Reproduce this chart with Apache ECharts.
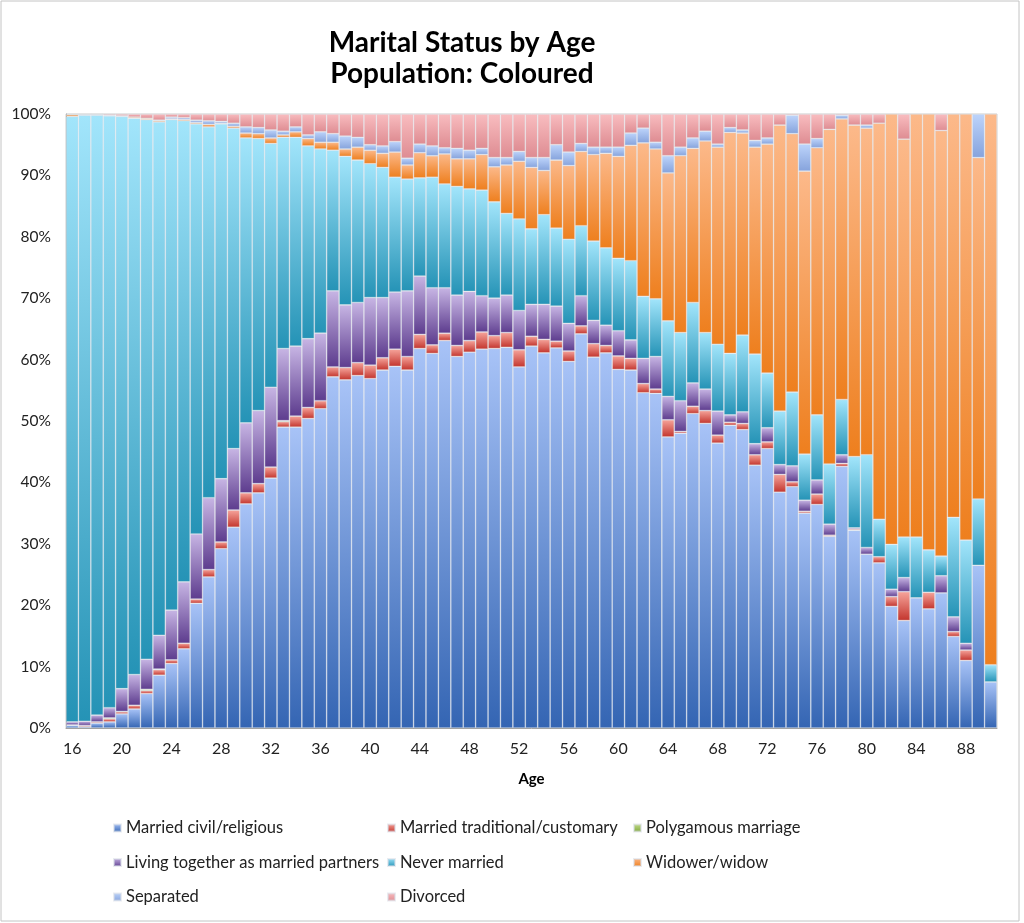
<!DOCTYPE html>
<html>
<head>
<meta charset="utf-8">
<title>Marital Status by Age</title>
<script src="https://cdn.jsdelivr.net/npm/echarts@6/dist/echarts.min.js"></script>
<style>
  html, body { margin: 0; padding: 0; background: #fff; }
  #chart { width: 1024px; height: 923px; }
</style>
</head>
<body>
<div id="chart"></div>
<script>
// ages 16 .. 90
const ages = ['16','17','18','19','20','21','22','23','24','25',
  '26','27','28','29','30','31','32','33','34','35',
  '36','37','38','39','40','41','42','43','44','45',
  '46','47','48','49','50','51','52','53','54','55',
  '56','57','58','59','60','61','62','63','64','65',
  '66','67','68','69','70','71','72','73','74','75',
  '76','77','78','79','80','81','82','83','84','85',
  '86','87','88','89','90'];

// percentages per age
const marriedCivil = [0.4,0.2,0.8,1.0,2.3,3.1,5.6,8.6,10.5,12.9,
  20.3,24.6,29.2,32.7,36.5,38.3,40.7,49.0,49.0,50.4,
  52.0,57.2,56.7,57.4,56.9,58.3,58.9,58.3,61.8,61.0,
  63.1,60.5,61.2,61.7,61.8,62.0,58.8,62.2,61.1,61.9,
  59.7,64.2,60.4,61.1,58.4,58.3,54.6,54.5,47.4,48.0,
  51.2,49.6,46.4,49.3,48.6,42.8,45.5,38.4,39.3,35.0,
  36.4,31.2,42.6,32.2,28.3,26.9,19.8,17.5,21.2,19.4,
  22.0,14.9,11.0,26.5,7.5];
const marriedTrad = [0.1,0.2,0.2,0.5,0.35,0.6,0.5,0.9,0.6,0.9,
  0.7,1.2,1.1,2.8,1.8,1.5,1.8,0.9,1.8,1.8,
  1.3,1.6,2.0,2.1,2.2,2.0,2.8,2.2,2.3,1.4,
  1.2,1.8,1.9,2.8,2.1,2.4,2.8,1.6,2.2,1.1,
  1.7,1.3,2.2,1.2,2.2,1.9,1.5,0.7,2.8,0.3,
  1.2,2.1,1.3,0.5,1.0,1.7,1.1,2.9,0.8,0.3,
  1.7,0.2,0.5,0.2,0,1.0,1.6,4.7,0,2.7,
  0,0.8,1.7,0,0];
const polygamous = [0,0,0,0.15,0.05,0,0.2,0.1,0,0,
  0,0,0,0,0,0,0,0.15,0,0,
  0,0,0,0,0,0,0,0,0,0,
  0,0,0,0,0,0,0,0,0,0,
  0,0,0,0,0,0,0,0,0,0,
  0,0,0,0,0,0,0,0,0,0,
  0,0,0,0,0,0,0,0,0,0,
  0,0,0,0,0];
const livingTogether = [0.5,0.7,1.1,1.65,3.7,5.0,4.9,5.5,8.1,10.0,
  10.6,11.7,10.3,10.0,11.4,11.9,13.0,11.75,11.4,11.2,
  11.0,12.4,10.2,9.8,11.0,9.8,9.3,10.7,9.5,9.3,
  7.4,8.2,8.0,5.9,6.1,6.1,6.4,5.2,5.7,5.7,
  4.5,4.9,3.8,3.3,4.1,3.0,4.1,5.3,3.8,5.0,
  3.8,3.5,3.9,1.2,1.9,1.8,2.3,1.6,2.6,1.8,
  2.3,1.8,1.4,0.2,1.1,0,1.2,2.3,0,0,
  2.8,2.4,1.1,0,0];
const neverMarried = [98.6,98.7,97.7,96.4,93.2,90.6,87.9,83.6,79.9,75.1,
  66.8,60.4,57.8,52.2,46.4,44.3,39.7,34.4,34.0,31.4,
  30.0,22.9,24.2,23.2,21.8,21.2,18.7,18.2,16.0,18.0,
  16.9,17.7,16.7,17.2,15.7,13.3,14.9,12.3,14.6,12.7,
  13.7,11.4,12.9,12.6,11.8,12.9,10.1,9.4,12.3,11.1,
  13.1,9.2,10.9,10.0,12.5,14.6,8.9,8.7,12.0,7.5,
  10.6,9.8,9.0,11.6,15.1,6.1,7.3,6.6,9.9,6.9,
  3.2,16.2,16.8,10.8,2.8];
const widowed = [0.3,0.1,0.1,0.1,0.1,0.2,0.2,0.2,0.1,0.2,
  0.2,0.4,0.1,0.3,0.8,0.8,0.9,0.4,0.9,1.2,
  1.1,1.3,1.2,2.1,2.2,2.3,4.1,2.3,4.1,3.5,
  4.9,4.5,4.9,5.8,5.7,7.9,9.4,10.0,7.2,11.1,
  12.0,12.1,14.1,15.4,16.6,18.8,25.0,24.4,24.1,28.8,
  25.1,31.2,32.1,36.0,32.9,33.7,37.3,46.6,42.1,46.1,
  43.5,54.5,45.7,54.0,53.2,64.5,70.1,64.8,68.9,71.0,
  69.3,65.7,69.4,55.6,89.7];
const separated = [0,0,0,0,0,0,0,0.1,0.3,0.3,
  0.4,0.6,0.3,0.5,1.0,1.0,1.3,0.6,0.8,0.6,
  1.7,1.4,2.1,1.6,0.9,1.2,1.7,1.1,1.4,1.6,
  1.0,1.7,1.4,1.0,1.5,1.2,1.6,1.6,2.1,2.5,
  2.2,1.3,1.2,1.0,1.5,2.0,2.4,1.1,2.8,1.4,
  1.7,1.6,0.5,0.8,0.5,1.1,1.0,0,3.0,4.4,
  1.5,0,0.6,0,0.5,0,0,0,0,0,
  0,0,0,7.1,0];
const divorced = [0.1,0.1,0.1,0.2,0.3,0.5,0.7,1.0,0.5,0.6,
  1.0,1.1,1.2,1.5,2.1,2.2,2.6,2.8,2.1,3.4,
  2.9,3.2,3.6,3.8,5.0,5.2,4.5,7.2,4.9,5.2,
  5.5,5.6,5.9,5.6,7.1,7.1,6.1,7.1,7.1,5.0,
  6.2,4.8,5.4,5.4,5.4,3.1,2.3,4.6,6.8,5.4,
  3.9,2.8,4.9,2.2,2.6,4.3,3.9,1.8,0.2,4.9,
  4.0,2.5,0.2,1.8,1.8,1.5,0,4.1,0,0,
  2.7,0,0,0,0];

const yTicks = [0,10,20,30,40,50,60,70,80,90,100];

const FONT = 'Lato, "Open Sans", sans-serif';

// Excel-style fill: darker at the bottom of each block, lighter at its top
function grad(bottom, top) {
  return {
    type: 'linear', x: 0, y: 1, x2: 0, y2: 0,
    colorStops: [{offset: 0, color: bottom}, {offset: 1, color: top}]
  };
}

const seriesDefs = [
  {name: 'Married civil/religious', data: marriedCivil, color: grad('#3465b3', '#a8c3f7')},
  {name: 'Married traditional/customary', data: marriedTrad, color: grad('#c3352d', '#f6a49b')},
  {name: 'Polygamous marriage', data: polygamous, color: grad('#7ea63a', '#c6de8e')},
  {name: 'Living together as married partners', data: livingTogether, color: grad('#5d3c8e', '#c7b5e4')},
  {name: 'Never married', data: neverMarried, color: grad('#2593b6', '#a2e5fb')},
  {name: 'Widower/widow', data: widowed, color: grad('#ee7f1e', '#fcb98a')},
  {name: 'Separated', data: separated, color: grad('#86a3dc', '#bdd4fb')},
  {name: 'Divorced', data: divorced, color: grad('#de8c92', '#f9bdc0')}
];

const series = seriesDefs.map(s => ({
  name: s.name,
  type: 'bar',
  stack: 'total',
  barCategoryGap: '0%',
  data: s.data.map(v => v === 0 ? null : v),
  itemStyle: {
    color: s.color,
    borderColor: 'rgba(215,220,230,0.55)',
    borderWidth: 0.7
  }
}));

const legendText = {fontSize: 16.5, color: '#222', fontFamily: FONT, lineHeight: 18};
const legendBase = {
  orient: 'vertical', top: 819, itemGap: 16.5, padding: 0,
  icon: 'rect', itemWidth: 7, itemHeight: 7,
  textStyle: legendText, selectedMode: false
};

const chart = echarts.init(document.getElementById('chart'), null, {renderer: 'canvas'});
chart.setOption({
  animation: false,
  backgroundColor: '#fff',
  textStyle: {fontFamily: FONT},
  graphic: [
    {type: 'rect', shape: {x: 1, y: 1, width: 1018, height: 920},
      style: {fill: 'none', stroke: '#c4c4c4', lineWidth: 1}, silent: true},
    {type: 'text', x: 462, y: 43, style: {text: 'Marital Status by Age', fill: '#000',
      font: 'bold 28px ' + FONT, align: 'center', verticalAlign: 'middle'}},
    {type: 'text', x: 462, y: 74, style: {text: 'Population: Coloured', fill: '#000',
      font: 'bold 28px ' + FONT, align: 'center', verticalAlign: 'middle'}}
  ],
  legend: [
    Object.assign({left: 113, data: ['Married civil/religious', 'Living together as married partners', 'Separated']}, legendBase),
    Object.assign({left: 387, data: ['Married traditional/customary', 'Never married', 'Divorced']}, legendBase),
    Object.assign({left: 633, data: ['Polygamous marriage', 'Widower/widow']}, legendBase)
  ],
  grid: {
    left: 66, right: 27, top: 114, bottom: 195,
    show: true, borderColor: '#cfcfcf', borderWidth: 1
  },
  xAxis: {
    type: 'category',
    data: ages,
    name: 'Age',
    nameLocation: 'middle',
    nameGap: 44,
    nameTextStyle: {fontSize: 15, fontWeight: 'bold', color: '#000', fontFamily: FONT},
    axisLine: {lineStyle: {color: '#a0a0a0'}},
    axisTick: {show: false},
    axisLabel: {interval: 3, fontSize: 16, color: '#222', margin: 13, fontFamily: FONT}
  },
  yAxis: {
    type: 'value',
    min: yTicks[0],
    max: yTicks[yTicks.length - 1],
    interval: yTicks[1] - yTicks[0],
    axisLine: {show: true, lineStyle: {color: '#a0a0a0'}},
    axisTick: {show: false},
    splitLine: {show: false},
    axisLabel: {formatter: '{value}%', fontSize: 15.5, color: '#222', margin: 15, fontFamily: FONT}
  },
  series: series
});
</script>
</body>
</html>
